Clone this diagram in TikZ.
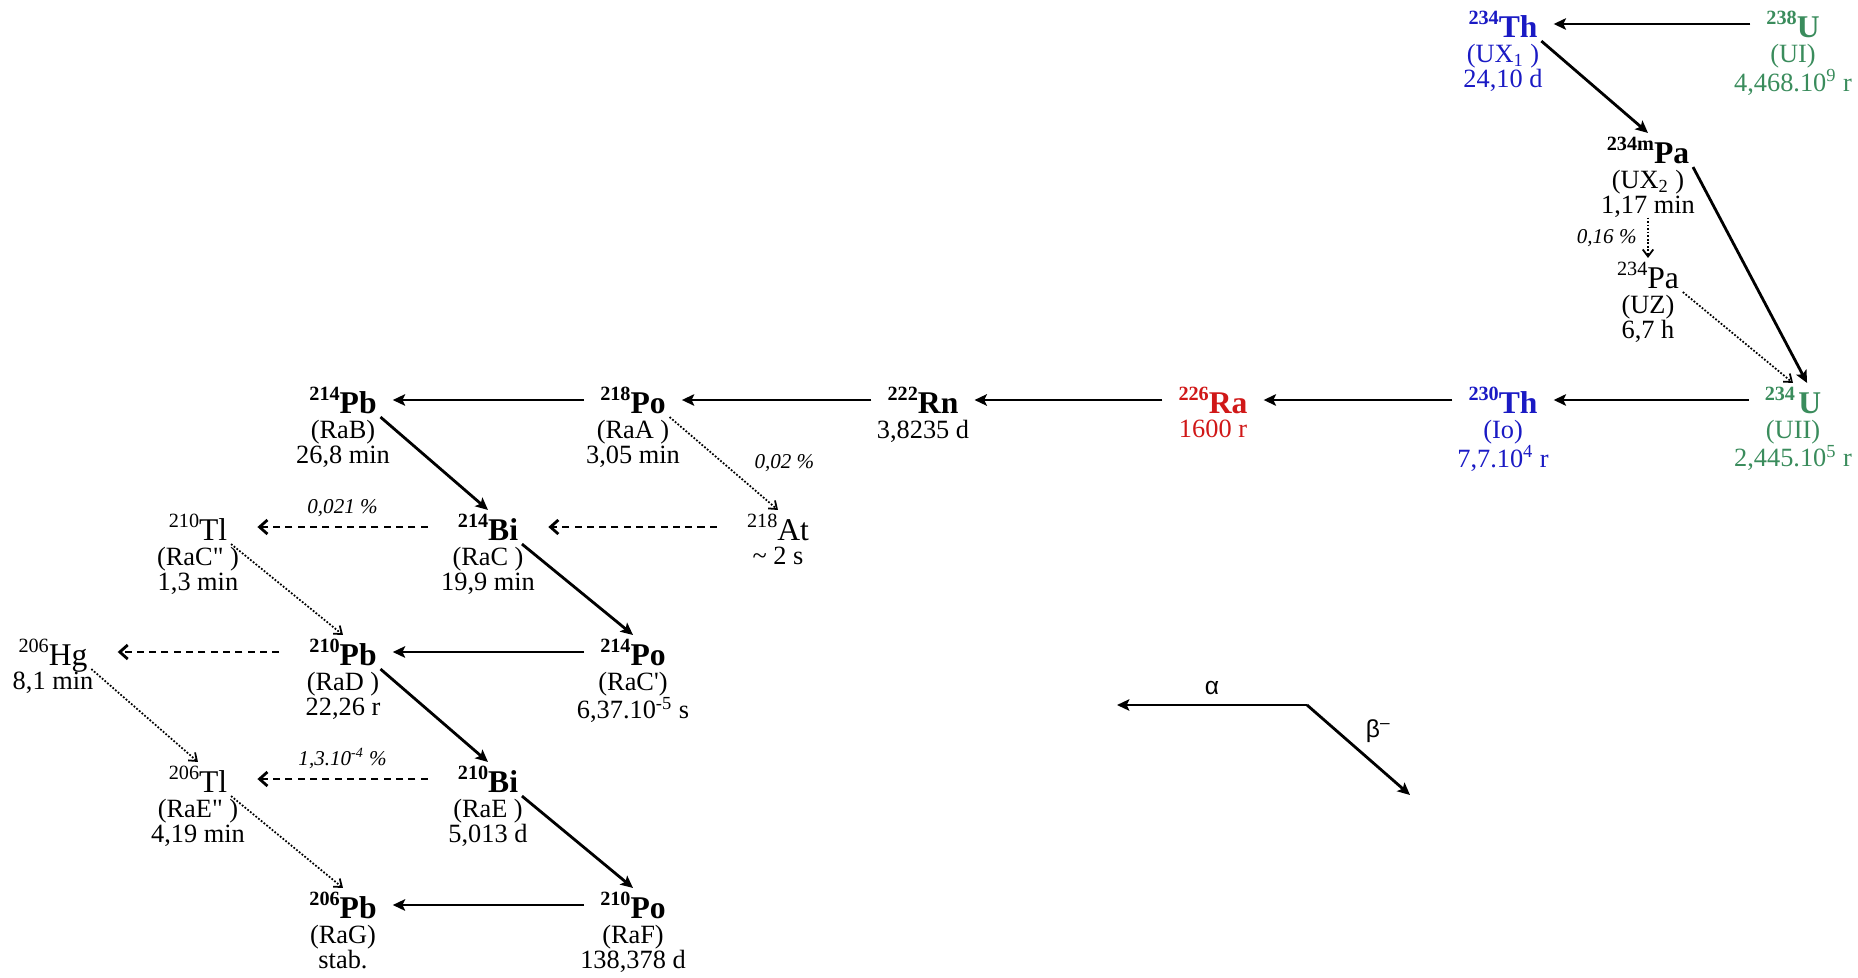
\documentclass[tikz,border=0pt]{standalone}
\usepackage{fontspec}
\setmainfont{Liberation Serif}
\newfontfamily\legendfont{Liberation Sans}
\usepackage{xcolor}
\usepackage{tikz}
\usetikzlibrary{arrows.meta,positioning}
\definecolor{UraniumGreen}{HTML}{3A8C5C}
\definecolor{ThoriumBlue}{HTML}{1A1AC4}
\definecolor{RadiumRed}{HTML}{D01818}
\newcommand{\iso}[2]{\raisebox{7.5pt}{\fontsize{11.5}{11.5}\selectfont #1}#2}
\tikzset{
  nuclide/.style={
    inner sep=2pt,
    text height=15pt,
    text depth=0pt,
    font=\fontsize{18}{18}\selectfont\bfseries
  },
  minor/.style={
    nuclide,
    font=\fontsize{18}{18}\selectfont
  },
  info/.style={
    align=center,
    inner sep=0pt,
    font=\fontsize{15}{14.2}\selectfont
  },
  pct/.style={font=\fontsize{12}{12}\selectfont\itshape, inner sep=1pt},
  adecay/.style={-{Stealth[length=7pt,width=6.5pt,inset=1.5pt]}, line width=1.6pt, shorten <=7pt, shorten >=7pt},
  bdecay/.style={-{Stealth[length=7pt,width=6.5pt,inset=1.5pt]}, line width=1.6pt},
  abranch/.style={-{Straight Barb[length=4.5pt,width=8pt]}, line width=1.6pt, dash pattern=on 4pt off 3pt, shorten <=15pt, shorten >=15pt},
  bbranch/.style={-{Straight Barb[length=4pt,width=6pt]}, line width=1pt, dash pattern=on 1pt off 1pt}
}
\begin{document}
\begin{tikzpicture}[
  x=0.02cm, y=-0.02cm,
  label distance=1.5pt,
  legend/.style={font=\legendfont\fontsize{14}{14}\selectfont, inner sep=2pt}
]
\useasboundingbox (0,0) rectangle (1858,977);
% uranium and thorium
\node[nuclide, text=UraniumGreen, label={[info, text=UraniumGreen]below:{(UI)\\4,468.10\textsuperscript{9} r}}] (U238) at (1793,24) {\iso{238}{U}};
\node[nuclide, text=ThoriumBlue, label={[info, text=ThoriumBlue]below:{(UX\textsubscript{1} )\\24,10 d}}] (Th234) at (1503,24) {\iso{234}{Th}};
\node[nuclide, label={[info, name=Pa234mI]below:{(UX\textsubscript{2} )\\1,17 min}}] (Pa234m) at (1648,150) {\iso{234m}{Pa}};
\node[minor, label={[info]below:{(UZ)\\6,7 h}}] (Pa234) at (1648,275) {\iso{234}{Pa}};
\node[nuclide, text=UraniumGreen, label={[info, text=UraniumGreen]below:{(UII)\\2,445.10\textsuperscript{5} r}}] (U234) at (1793,400) {\iso{234\,}{U}};
\node[nuclide, text=ThoriumBlue, label={[info, text=ThoriumBlue]below:{(Io)\\7,7.10\textsuperscript{4} r}}] (Th230) at (1503,400) {\iso{230}{Th}};
% radium and radon
\node[nuclide, text=RadiumRed, label={[info, text=RadiumRed]below:{1600 r}}] (Ra226) at (1213,400) {\iso{226}{Ra}};
\node[nuclide, label={[info]below:{3,8235 d}}] (Rn222) at (923,400) {\iso{222}{Rn}};
% short-lived daughters
\node[nuclide, label={[info]below:{(RaA )\\3,05 min}}] (Po218) at (633,400) {\iso{218}{Po}};
\node[nuclide, label={[info]below:{(RaB)\\26,8 min}}] (Pb214) at (343,400) {\iso{214}{Pb}};
\node[minor, label={[info]below:{\textasciitilde{} 2 s}}] (At218) at (778,527) {\iso{218}{At}};
\node[nuclide, label={[info]below:{(RaC )\\19,9 min}}] (Bi214) at (488,527) {\iso{214}{Bi}};
\node[minor, label={[info]below:{(RaC\textquotedbl{} )\\1,3 min}}] (Tl210) at (198,527) {\iso{210}{Tl}};
\node[nuclide, label={[info]below:{(RaC\textquotesingle)\\6,37.10\textsuperscript{-5} s}}] (Po214) at (633,652) {\iso{214}{Po}};
\node[nuclide, label={[info]below:{(RaD )\\22,26 r}}] (Pb210) at (343,652) {\iso{210}{Pb}};
\node[minor, label={[info]below:{8,1 min}}] (Hg206) at (53,652) {\iso{206}{Hg}};
\node[nuclide, label={[info]below:{(RaE )\\5,013 d}}] (Bi210) at (488,779) {\iso{210}{Bi}};
\node[minor, label={[info]below:{(RaE\textquotedbl{} )\\4,19 min}}] (Tl206) at (198,779) {\iso{206}{Tl}};
\node[nuclide, label={[info]below:{(RaF)\\138,378 d}}] (Po210) at (633,905) {\iso{210}{Po}};
\node[nuclide, label={[info]below:{(RaG)\\stab.}}] (Pb206) at (343,905) {\iso{206}{Pb}};
% alpha decays
\draw[adecay] (U238) -- (Th234);
\draw[adecay] (U234) -- (Th230);
\draw[adecay] (Th230) -- (Ra226);
\draw[adecay] (Ra226) -- (Rn222);
\draw[adecay] (Rn222) -- (Po218);
\draw[adecay] (Po218) -- (Pb214);
\draw[adecay] (Po214) -- (Pb210);
\draw[adecay] (Po210) -- (Pb206);
% beta decays
\draw[bdecay] (Th234.south east) -- (Pa234m.north);
\draw[bdecay] (Pa234m.south east) -- ([xshift=8pt]U234.north);
\draw[bdecay] (Pb214.south east) -- (Bi214.north);
\draw[bdecay] (Bi214.south east) -- (Po214.north);
\draw[bdecay] (Pb210.south east) -- (Bi210.north);
\draw[bdecay] (Bi210.south east) -- (Po210.north);
% branchings
\draw[bbranch] (Pa234mI) -- node[pct, left=5pt] {0,16 \%} (Pa234);
\draw[bbranch] (Pa234.south east) -- (U234.north);
\draw[bbranch] (Po218.south east) -- node[pct, right=16pt] {0,02 \%} (At218.north);
\draw[abranch] (At218) -- (Bi214);
\draw[abranch] (Bi214) -- node[pct, above=4pt] {0,021 \%} (Tl210);
\draw[bbranch] (Tl210.south east) -- (Pb210.north);
\draw[abranch] (Pb210) -- (Hg206);
\draw[bbranch] (Hg206.south east) -- (Tl206.north);
\draw[abranch] (Bi210) -- node[pct, above=4pt] {1,3.10\textsuperscript{-4} \%} (Tl206);
\draw[bbranch] (Tl206.south east) -- (Pb206.north);
% legend
\coordinate (legO) at (1307,705);
\coordinate (legA) at (1117,705);
\coordinate (legB) at (1410,795);
\draw[bdecay] (legO) -- node[legend, above=3pt] {α} (legA);
\draw[bdecay] (legO) -- node[legend, above right=2pt] {β\textsuperscript{\textendash}} (legB);
\end{tikzpicture}
\end{document}
